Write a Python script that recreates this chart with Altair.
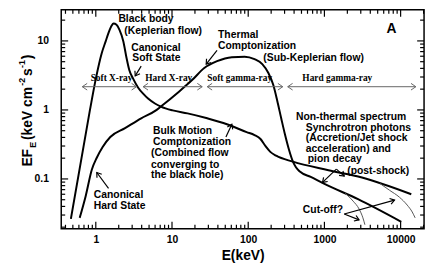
import math
import altair as alt
import pandas as pd

# ---------------- data ----------------
soft_E = [0.471, 0.836, 1.0, 1.196, 1.347, 1.473, 1.61, 1.71, 1.87, 2.04, 2.30, 2.52, 2.75,
          3.10, 3.60, 4.18, 4.85, 5.97, 7.14, 10.2, 16.0, 29.0, 52.6, 95.3, 121, 145, 168,
          195, 233, 386, 1130, 3110, 13800]
soft_F = [0.0264, 0.984, 2.82, 6.63, 9.84, 13.2, 16.6, 17.9, 17.2, 14.6, 9.84, 5.81, 3.79,
          2.82, 2.10, 1.72, 1.46, 1.24, 1.12, 0.984, 0.891, 0.756, 0.621, 0.477, 0.432, 0.379,
          0.301, 0.247, 0.217, 0.178, 0.134, 0.105, 0.060]

hard_E = [0.615, 0.736, 0.888, 1.03, 1.23, 1.55, 2.42, 3.94, 6.15, 7.14, 11.9, 18.5, 26.5,
          39.0, 61.0, 89.8, 121, 153, 184, 213, 240, 271, 305, 343, 386, 423, 476, 661,
          1033, 2760, 10200]
hard_F = [0.0273, 0.0562, 0.137, 0.203, 0.291, 0.405, 0.544, 0.756, 0.984, 1.12, 1.78, 2.73,
          4.05, 5.09, 5.81, 5.91, 5.44, 4.62, 3.43, 2.31, 1.37, 0.756, 0.432, 0.264, 0.178,
          0.148, 0.128, 0.107, 0.0834, 0.0509, 0.0239]

cut_hi_E = [5320, 7160, 9640, 12200, 14200, 15500]
cut_hi_F = [0.0863, 0.0685, 0.0544, 0.0418, 0.0332, 0.0273]
cut_lo_E = [1875, 2380, 2850, 3200, 3400]
cut_lo_F = [0.0618, 0.0477, 0.0367, 0.0273, 0.0217]

band_names = ["Soft X-ray", "Hard X-ray", "Soft gamma-ray", "Hard gamma-ray"]
band_lo = [0.665, 4.18, 29.0, 330]
band_hi = [3.42, 24.9, 284, 15850]
band_mid = [1.61, 9.06, 77.4, 1477]
band_F = 2.17

ptr_tail_E = [3.94, 39.0, 51.0, 1.47, 1435, 1435, 1820, 1820]
ptr_tail_F = [4.32, 7.32, 0.405, 0.0731, 0.139, 0.139, 0.0311, 0.0311]
ptr_head_E = [3.29, 28.1, 61.0, 1.03, 944, 1820, 2845, 8320]
ptr_head_F = [3.11, 4.62, 0.621, 0.124, 0.0891, 0.110, 0.0255, 0.0493]

note_text = ["Black body", "(Keplerian flow)", "Canonical", "Soft State", "Thermal",
             "Comptonization", "(Sub-Keplerian flow)", "Bulk Motion", "Comptonization",
             "(Combined flow", "converging to", "the black hole)", "Canonical", "Hard State",
             "Non-thermal spectrum", "Synchrotron photons", "(Accretion/Jet shock",
             "acceleration) and", "pion decay", "(post-shock)", "Cut-off?"]
note_E = [1.98, 2.37, 2.92, 3.01, 40.2, 40.2, 158, 5.63, 5.63, 5.30, 5.30, 5.30, 0.942, 0.942,
          423, 570, 570, 570, 604, 1990, 521]
note_F = [20.9, 13.7, 7.81, 5.62, 12.0, 8.34, 5.62, 0.501, 0.343, 0.235, 0.161, 0.114, 0.0581,
          0.0411, 0.781, 0.544, 0.392, 0.273, 0.196, 0.130, 0.0355]

x_major = [1, 10, 100, 1000, 10000]
y_major = [0.1, 1, 10]
x_minor = [round(m * 10 ** k, 6) for k in range(-1, 5) for m in range(2, 10)
           if 0.352 <= m * 10 ** k <= 20300]
y_minor = [round(m * 10 ** k, 6) for k in range(-2, 2) for m in range(2, 10)
           if 0.019 <= m * 10 ** k <= 28.2]

# ---------------- layout ----------------
W, H = 368, 222
XDOM = [0.352, 20300]
YDOM = [0.019, 28.2]
ppx = W / math.log10(XDOM[1] / XDOM[0])
ppy = H / math.log10(YDOM[1] / YDOM[0])
MAJ, MIN = 7, 4

def ang(e0, f0, e1, f1):
    dx = (math.log10(e1) - math.log10(e0)) * ppx
    dy = -(math.log10(f1) - math.log10(f0)) * ppy
    return math.degrees(math.atan2(dy, dx)) % 360

xs = alt.Scale(type="log", domain=XDOM, nice=False)
ys = alt.Scale(type="log", domain=YDOM, nice=False)

SANS = "Liberation Sans"
SERIF = "Liberation Serif"
CHEV = "M -1.1 -0.75 L 0 0 L -1.1 0.75"

curves = pd.DataFrame(
    [{"E": e, "F": f, "s": "soft"} for e, f in zip(soft_E, soft_F)]
    + [{"E": e, "F": f, "s": "hard"} for e, f in zip(hard_E, hard_F)]
)
thin = pd.DataFrame(
    [{"E": e, "F": f, "s": "hi"} for e, f in zip(cut_hi_E, cut_hi_F)]
    + [{"E": e, "F": f, "s": "lo"} for e, f in zip(cut_lo_E, cut_lo_F)]
)
bands = pd.DataFrame({"name": band_names, "E": band_lo, "E2": band_hi, "mid": band_mid,
                      "F": [band_F] * 4})
band_heads = pd.DataFrame(
    [{"E": e, "F": band_F, "a": 180} for e in band_lo]
    + [{"E": e, "F": band_F, "a": 0} for e in band_hi]
)
ptrs = pd.DataFrame({"E": ptr_tail_E, "F": ptr_tail_F, "E2": ptr_head_E, "F2": ptr_head_F})
ptr_heads = pd.DataFrame({
    "E": ptr_head_E, "F": ptr_head_F,
    "a": [ang(a, b, c, d) for a, b, c, d in zip(ptr_tail_E, ptr_tail_F, ptr_head_E, ptr_head_F)],
})
notes = pd.DataFrame({"t": note_text, "E": note_E, "F": note_F})

# inward tick segments on the frame, expressed in data space (tick length -> factor)
def fx(px):
    return 10 ** (px / ppx)

def fy(px):
    return 10 ** (px / ppy)

xtick_rows = []
for vals, ln in ((x_major, MAJ), (x_minor, MIN)):
    for v in vals:
        xtick_rows.append({"E": v, "F": YDOM[0], "F2": YDOM[0] * fy(ln)})
        xtick_rows.append({"E": v, "F": YDOM[1], "F2": YDOM[1] / fy(ln)})
ytick_rows = []
for vals, ln in ((y_major, MAJ), (y_minor, MIN)):
    for v in vals:
        ytick_rows.append({"F": v, "E": XDOM[0], "E2": XDOM[0] * fx(ln)})
        ytick_rows.append({"F": v, "E": XDOM[1], "E2": XDOM[1] / fx(ln)})
xticks_df = pd.DataFrame(xtick_rows)
yticks_df = pd.DataFrame(ytick_rows)

AX = alt.Axis(orient="bottom", values=x_major, format="d", ticks=False, tickSize=0,
              domain=False, grid=False, labelFont=SANS, labelFontSize=10.5,
              labelFontWeight="bold", labelColor="black", labelPadding=6,
              title="E(keV)", titleFont=SANS, titleFontSize=14, titleFontWeight="bold",
              titleColor="black", titlePadding=4)
AY = alt.Axis(orient="left", values=y_major, format="~g", ticks=False, tickSize=0,
              domain=False, grid=False, labelFont=SANS, labelFontSize=10.5,
              labelFontWeight="bold", labelColor="black", labelPadding=13, title="")

def X(field="E"):
    return alt.X(field + ":Q", scale=xs, axis=AX, title="E(keV)")

def Y(field="F"):
    return alt.Y(field + ":Q", scale=ys, axis=AY, title="")

lines = alt.Chart(curves).mark_line(color="black", strokeWidth=2, interpolate="monotone").encode(
    x=X(), y=Y(), detail="s:N")

xtick_marks = alt.Chart(xticks_df).mark_rule(color="black", strokeWidth=1.2).encode(
    x=X(), y=Y(), y2="F2:Q")
ytick_marks = alt.Chart(yticks_df).mark_rule(color="black", strokeWidth=1.2).encode(
    x=X(), x2="E2:Q", y=Y())

thin_lines = alt.Chart(thin).mark_line(color="#555555", strokeWidth=1, interpolate="monotone").encode(
    x=X(), y=Y(), detail="s:N")

band_rules = alt.Chart(bands).mark_rule(color="#666666", strokeWidth=1).encode(
    x=X(), x2="E2:Q", y=Y())
band_tips = alt.Chart(band_heads).mark_point(shape=CHEV, filled=False, size=81, color="#666666",
                                             strokeWidth=1, opacity=1).encode(
    x=X(), y=Y(), angle=alt.Angle("a:Q", scale=None))
band_text = alt.Chart(bands).mark_text(font=SERIF, fontSize=9.5, fontWeight="bold", color="black",
                                       dy=-9, align="center", baseline="middle").encode(
    x=X("mid"), y=Y(), text="name:N")

ptr_rules = alt.Chart(ptrs).mark_rule(color="black", strokeWidth=1.2).encode(
    x=X(), x2="E2:Q", y=Y(), y2="F2:Q")
ptr_tips = alt.Chart(ptr_heads).mark_point(shape=CHEV, filled=False, size=64, color="black",
                                           strokeWidth=1.2, opacity=1).encode(
    x=X(), y=Y(), angle=alt.Angle("a:Q", scale=None))

note_marks = alt.Chart(notes).mark_text(font=SANS, fontSize=10.5, fontWeight="bold", color="black",
                                        align="left", baseline="middle").encode(
    x=X(), y=Y(), text="t:N")

panel_label = alt.Chart(pd.DataFrame({"t": ["A"], "E": [7600], "F": [15.1]})).mark_text(
    font=SANS, fontSize=14, fontWeight="bold", color="black", align="center", baseline="middle"
).encode(x=X(), y=Y(), text="t:N")

# y-axis title built from pieces (sub/superscripts)
title_pieces = [
    ("EF", 14, -34, 159),
    ("E", 9, -29, 140),
    ("(keV cm", 14, -34, 132),
    ("-2", 9, -40, 77),
    ("s", 14, -34, 67),
    ("-1", 9, -40, 59),
    (")", 14, -34, 50),
]
title_layers = [
    alt.Chart(pd.DataFrame({"t": [t]})).mark_text(
        font=SANS, fontSize=fs, fontWeight="bold", color="black", angle=270,
        align="left", baseline="middle").encode(text="t:N", x=alt.value(px), y=alt.value(py))
    for t, fs, px, py in title_pieces
]

chart = alt.layer(
    lines, xtick_marks, ytick_marks, band_rules, band_tips, band_text, thin_lines, ptr_rules,
    ptr_tips, note_marks, panel_label, *title_layers
).properties(
    width=W, height=H,
    padding={"left": 54, "top": 0, "right": 4, "bottom": 40},
    autosize=alt.AutoSizeParams(type="none"),
).configure_view(stroke="black", strokeWidth=1.5)

chart.save("out.html", embed_options={"renderer": "svg", "actions": False})
